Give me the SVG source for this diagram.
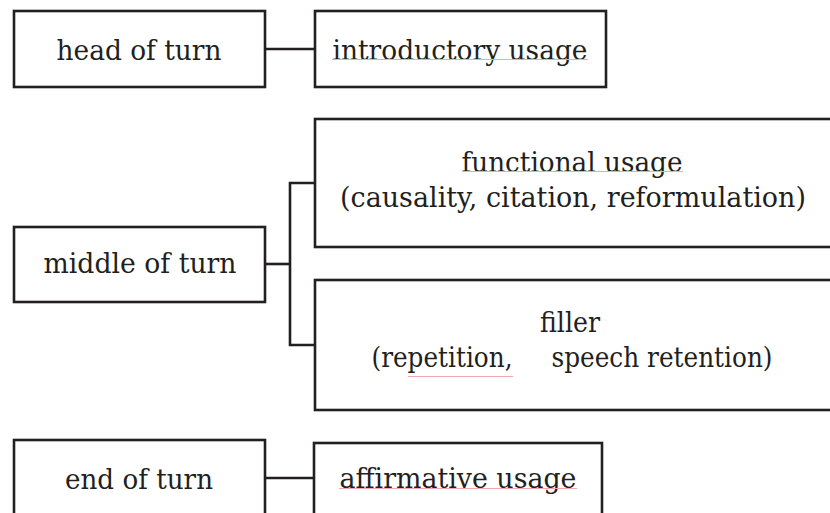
<svg xmlns="http://www.w3.org/2000/svg" width="830" height="513" viewBox="0 0 830 513">
<style>
.box{fill:#fff;stroke:#231f20;stroke-width:2.6}
.lbl{font-family:"DejaVu Serif","Liberation Serif",serif;font-size:27px;fill:#231f20;text-anchor:middle}
.conn{fill:none;stroke:#231f20;stroke-width:2.6}
.sq{stroke:#f2a7ae;stroke-width:1}
</style>
<rect width="830" height="513" fill="#fff"/>
<g id="connectors">
<line class="conn" x1="265" y1="49" x2="315" y2="49"/>
<line class="conn" x1="265" y1="264" x2="290" y2="264"/>
<polyline class="conn" points="315,183 290,183 290,345 315,345"/>
<line class="conn" x1="265" y1="478" x2="315" y2="478"/>
</g>
<g id="head">
<rect class="box" x="14" y="11" width="251" height="76"/>
<text class="lbl" x="139" y="60" textLength="165" lengthAdjust="spacingAndGlyphs">head of turn</text>
</g>
<g id="introductory">
<rect class="box" x="315" y="11" width="291" height="76"/>
<text class="lbl" x="460" y="60" textLength="255" lengthAdjust="spacingAndGlyphs">introductory usage</text>
<line class="sq" x1="332" y1="59.5" x2="588" y2="59.5"/>
</g>
<g id="middle">
<rect class="box" x="14" y="227" width="251" height="75"/>
<text class="lbl" x="140" y="273" textLength="193" lengthAdjust="spacingAndGlyphs">middle of turn</text>
</g>
<g id="functional">
<rect class="box" x="315" y="119" width="530" height="128"/>
<text class="lbl" x="572" y="172" textLength="221" lengthAdjust="spacingAndGlyphs">functional usage</text>
<text class="lbl" x="573" y="207" textLength="466" lengthAdjust="spacingAndGlyphs">(causality, citation, reformulation)</text>
<line class="sq" x1="462" y1="171.5" x2="683" y2="171.5"/>
</g>
<g id="filler">
<rect class="box" x="315" y="280" width="530" height="130"/>
<text class="lbl" x="570" y="332" textLength="60" lengthAdjust="spacingAndGlyphs">filler</text>
<text class="lbl" x="442" y="367" textLength="141" lengthAdjust="spacingAndGlyphs">(repetition,</text>
<text class="lbl" x="662" y="367" textLength="221" lengthAdjust="spacingAndGlyphs">speech retention)</text>
<line class="sq" x1="408" y1="376.5" x2="513" y2="376.5"/>
</g>
<g id="end">
<rect class="box" x="14" y="440" width="251" height="80"/>
<text class="lbl" x="139" y="489" textLength="148" lengthAdjust="spacingAndGlyphs">end of turn</text>
</g>
<g id="affirmative">
<rect class="box" x="314" y="443" width="288" height="80"/>
<text class="lbl" x="458" y="488" textLength="237" lengthAdjust="spacingAndGlyphs">affirmative usage</text>
<line class="sq" x1="339" y1="488.5" x2="577" y2="488.5"/>
</g>
</svg>
